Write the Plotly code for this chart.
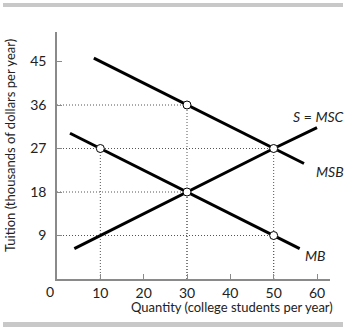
import plotly.graph_objects as go

# Market for college education: marginal benefit curves and supply
msb_q = [8.5, 30, 50, 57]
msb_p = [45.7, 36, 27, 23.9]
mb_q = [3, 10, 30, 50, 56]
mb_p = [30.15, 27, 18, 9, 6.3]
msc_q = [4, 30, 50, 60]
msc_p = [6.3, 18, 27, 31.3]

# Highlighted points (quantity, tuition)
pts_q = [30, 50, 10, 30, 50]
pts_p = [36, 27, 27, 18, 9]

x_ticks = [10, 20, 30, 40, 50, 60]
y_ticks = [9, 18, 27, 36, 45]

W, H = 350, 328
L, R, T, B = 57, 20, 32, 49
PW, PH = W - L - R, H - T - B
X_MAX = 63
Y_MAX = PH / (174 / 36)

FONT = "Lato"
INK = "#222222"
AXIS = "#8a8a8a"


def px(xp):
    return (xp - L) / PW


def py(yp):
    return 1 - (yp - T) / PH


fig = go.Figure()

# Dotted guide lines from each highlighted point to both axes
guide = dict(color="#555555", width=1, dash="1px,2px")
for q, p in zip(pts_q, pts_p):
    fig.add_trace(go.Scatter(x=[0, q], y=[p, p], mode="lines", line=guide,
                             hoverinfo="skip", showlegend=False))
    fig.add_trace(go.Scatter(x=[q, q], y=[0, p], mode="lines", line=guide,
                             hoverinfo="skip", showlegend=False))

for xs, ys in [(msb_q, msb_p), (mb_q, mb_p), (msc_q, msc_p)]:
    fig.add_trace(go.Scatter(x=xs, y=ys, mode="lines",
                             line=dict(color="black", width=3),
                             showlegend=False))

fig.add_trace(go.Scatter(x=pts_q, y=pts_p, mode="markers",
                         marker=dict(size=8, color="white",
                                     line=dict(color="black", width=1)),
                         showlegend=False))


def label(xp, yp, text, size=13, angle=0):
    return dict(xref="paper", yref="paper", x=px(xp), y=py(yp), text=text,
                xanchor="center", yanchor="middle", showarrow=False,
                textangle=angle, font=dict(size=size, color=INK, family=FONT))


annotations = [
    label(318, 116, "<i>S</i> = <i>MSC</i>", size=14),
    label(330, 171, "<i>MSB</i>", size=14),
    label(315, 255, "<i>MB</i>", size=14),
    label(50, 291, "0", size=14),
    label(232, 307, "Quantity (college students per year)", size=13),
    label(10, 146, "Tuition (thousands of dollars per year)", size=13, angle=-90),
]

shapes = [
    dict(type="rect", xref="paper", yref="paper", x0=px(3), x1=px(343),
         y0=py(7), y1=py(3), fillcolor="#c8c8c8", line=dict(width=0)),
    dict(type="rect", xref="paper", yref="paper", x0=px(3), x1=px(343),
         y0=py(327), y1=py(322), fillcolor="#c8c8c8", line=dict(width=0)),
]

fig.update_layout(
    width=W, height=H,
    margin=dict(l=L, r=R, t=T, b=B),
    paper_bgcolor="white", plot_bgcolor="white",
    annotations=annotations, shapes=shapes,
    font=dict(family=FONT, size=13, color=INK),
    xaxis=dict(range=[0, X_MAX], tickvals=x_ticks, showgrid=False,
               zeroline=False, showline=True, linecolor=AXIS, linewidth=1.5,
               ticks="inside", ticklen=5, tickcolor=AXIS, tickwidth=1,
               ticklabelstandoff=0,
               tickfont=dict(size=14, color=INK, family=FONT)),
    yaxis=dict(range=[0, Y_MAX], tickvals=y_ticks, showgrid=False,
               zeroline=False, showline=True, linecolor=AXIS, linewidth=1.5,
               ticks="inside", ticklen=5, tickcolor=AXIS, tickwidth=1,
               ticklabelstandoff=6,
               tickfont=dict(size=14, color=INK, family=FONT)),
)

fig.write_html("out.html")
